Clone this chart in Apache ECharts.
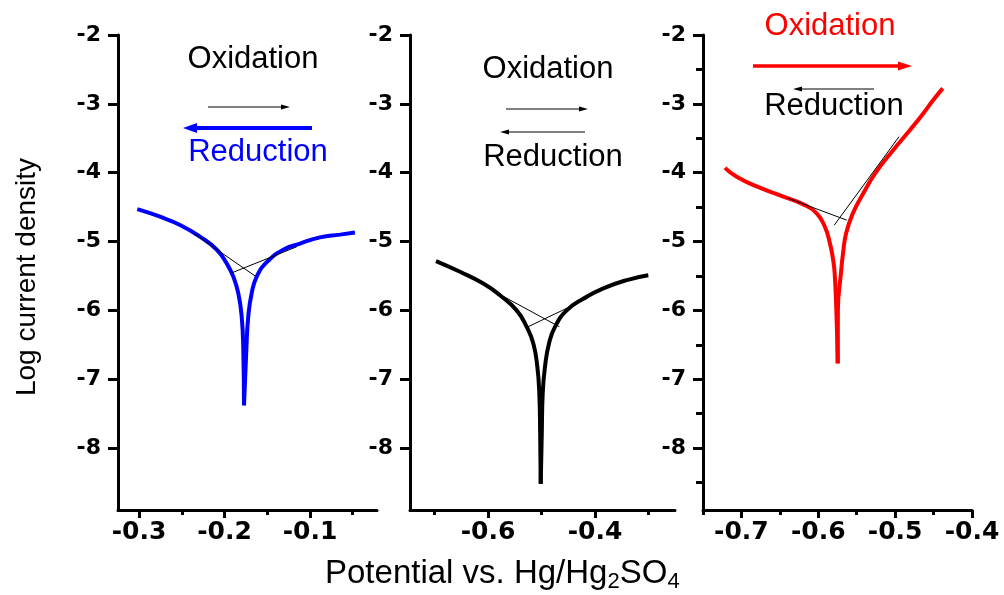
<!DOCTYPE html>
<html>
<head>
<meta charset="utf-8">
<title>Tafel polarization curves</title>
<script src="https://cdn.jsdelivr.net/npm/echarts@6/dist/echarts.min.js"></script>
<style>
  html, body { margin: 0; padding: 0; background: #ffffff; }
  #chart { width: 1004px; height: 595px; }
</style>
</head>
<body>
<div id="chart"></div>
<script>
// ---- Polarization data: potential (V vs Hg/Hg2SO4) and log current density ----

// Panel 1 (blue scan)
const blueCathodicE   = [-0.302, -0.2754, -0.252, -0.2287, -0.209, -0.1974, -0.1897, -0.1839, -0.1799, -0.178, -0.1772];
const blueCathodicLog = [-4.53, -4.64, -4.76, -4.93, -5.12, -5.32, -5.51, -5.75, -6.09, -6.58, -7.38];
const blueAnodicE     = [-0.1772, -0.1745, -0.1722, -0.1682, -0.1623, -0.1506, -0.1312, -0.1117, -0.0883, -0.0649, -0.0474];
const blueAnodicLog   = [-7.38, -6.58, -6.09, -5.75, -5.51, -5.30, -5.12, -5.03, -4.94, -4.90, -4.87];
const blueTafelCathE   = [-0.2365, -0.1643];
const blueTafelCathLog = [-4.88, -5.50];
const blueTafelAnodE   = [-0.1915, -0.1156];
const blueTafelAnodLog = [-5.455, -5.077];

// Panel 2 (black scan)
const blackCathodicE   = [-0.6972, -0.6523, -0.6088, -0.5776, -0.5464, -0.5277, -0.5153, -0.5078, -0.5041, -0.5025, -0.5015];
const blackCathodicLog = [-5.285, -5.44, -5.61, -5.78, -6.00, -6.24, -6.48, -6.82, -7.21, -7.80, -8.52];
const blackAnodicE     = [-0.5015, -0.4995, -0.4978, -0.4935, -0.486, -0.4748, -0.4529, -0.4219, -0.3845, -0.3407, -0.3004];
const blackAnodicLog   = [-8.52, -7.80, -7.21, -6.82, -6.48, -6.24, -6.00, -5.83, -5.68, -5.56, -5.49];
const blackTafelCathE   = [-0.5838, -0.4667];
const blackTafelCathLog = [-5.745, -6.238];
const blackTafelAnodE   = [-0.5277, -0.4144];
const blackTafelAnodLog = [-6.248, -5.827];

// Panel 3 (red scan)
const redCathodicE   = [-0.7214, -0.7062, -0.6801, -0.6498, -0.6195, -0.6021, -0.5913, -0.5848, -0.5805, -0.5787, -0.5765, -0.5747];
const redCathodicLog = [-3.93, -4.06, -4.20, -4.33, -4.46, -4.59, -4.79, -5.03, -5.28, -5.46, -6.00, -6.77];
const redAnodicE     = [-0.5747, -0.5745, -0.5705, -0.5678, -0.5638, -0.5550, -0.5414, -0.5260, -0.5024, -0.4807, -0.4634, -0.4504, -0.4381];
const redAnodicLog   = [-6.77, -6.00, -5.46, -5.17, -4.88, -4.59, -4.30, -4.01, -3.67, -3.38, -3.14, -2.945, -2.775];
const redTafelCathE   = [-0.6389, -0.563];
const redTafelCathLog = [-4.374, -4.689];
const redTafelAnodE   = [-0.5792, -0.4950];
const redTafelAnodLog = [-4.762, -3.478];

// Tick values
const yMajorTicks  = [-2, -3, -4, -5, -6, -7, -8];
const yMinorTicks  = [-2.5, -3.5, -4.5, -5.5, -6.5, -7.5, -8.5];
const x1MajorTicks = [-0.3, -0.2, -0.1];
const x1MinorTicks = [-0.25, -0.15, -0.05];
const x2MajorTicks = [-0.6, -0.4];
const x2MinorTicks = [-0.7, -0.5, -0.3];
const x3MajorTicks = [-0.7, -0.6, -0.5, -0.4];
const x3MinorTicks = [-0.75, -0.65, -0.55, -0.45];

// Axis ranges
const yRange  = [-8.9, -2];
const x1Range = [-0.3246, -0.0216];
const x2Range = [-0.7458, -0.2505];
const x3Range = [-0.75, -0.40];

// ---- helpers ----
const zip = (xs, ys) => xs.map((x, i) => [x, ys[i]]);
const tickFont = { color: '#000', fontFamily: 'DejaVu Sans', fontWeight: 'bold' };
const textFont = '"Liberation Sans", Arial, sans-serif';

function majorX(gridIndex, range, ticks) {
  return {
    type: 'value', gridIndex, min: range[0], max: range[1], position: 'bottom',
    axisLine: { show: true, onZero: false, lineStyle: { color: '#000', width: 3 } },
    axisTick: { show: true, customValues: ticks, length: 8, lineStyle: { color: '#000', width: 3 } },
    axisLabel: Object.assign({ show: true, customValues: ticks, margin: 10, fontSize: 25 }, tickFont),
    splitLine: { show: false }
  };
}
function minorX(gridIndex, range, ticks) {
  return {
    type: 'value', gridIndex, min: range[0], max: range[1], position: 'bottom',
    axisLine: { show: false, onZero: false },
    axisTick: { show: true, customValues: ticks, length: 5, lineStyle: { color: '#000', width: 3 } },
    axisLabel: { show: false },
    splitLine: { show: false }
  };
}
function majorY(gridIndex) {
  return {
    type: 'value', gridIndex, min: yRange[0], max: yRange[1], position: 'left',
    axisLine: { show: true, onZero: false, lineStyle: { color: '#000', width: 3 } },
    axisTick: { show: true, customValues: yMajorTicks, length: 10, lineStyle: { color: '#000', width: 3 } },
    axisLabel: Object.assign({ show: true, customValues: yMajorTicks, margin: 17, fontSize: 22 }, tickFont),
    splitLine: { show: false }
  };
}
function minorY(gridIndex) {
  return {
    type: 'value', gridIndex, min: yRange[0], max: yRange[1], position: 'left',
    axisLine: { show: false, onZero: false },
    axisTick: { show: true, customValues: yMinorTicks, length: 7, lineStyle: { color: '#000', width: 3 } },
    axisLabel: { show: false },
    splitLine: { show: false }
  };
}
function curve(xi, yi, xs, ys, color) {
  return {
    type: 'line', xAxisIndex: xi, yAxisIndex: yi, data: zip(xs, ys),
    showSymbol: false, symbol: 'none', smooth: 0.5, silent: true,
    lineStyle: { color, width: 4, cap: 'butt', join: 'round' }, z: 3
  };
}
function tafel(xi, yi, xs, ys) {
  return {
    type: 'line', xAxisIndex: xi, yAxisIndex: yi, data: zip(xs, ys),
    showSymbol: false, symbol: 'none', silent: true,
    lineStyle: { color: '#000', width: 1 }, z: 4
  };
}
function label(text, x, y, color) {
  return {
    type: 'text', x, y, silent: true,
    style: { text, fill: color, font: '31px ' + textFont, textAlign: 'center', textVerticalAlign: 'middle' }
  };
}
// horizontal arrow from tail x1 to head x2
function arrow(x1, x2, y, color, width, headLen, headHalf) {
  const dir = x2 > x1 ? 1 : -1;
  const base = x2 - dir * headLen;
  return [
    { type: 'line', silent: true, shape: { x1, y1: y, x2: base, y2: y }, style: { stroke: color, lineWidth: width } },
    { type: 'polygon', silent: true, shape: { points: [[x2, y], [base, y - headHalf], [base, y + headHalf]] }, style: { fill: color } }
  ];
}

const chart = echarts.init(document.getElementById('chart'), null, { renderer: 'canvas' });

const option = {
  animation: false,
  backgroundColor: '#ffffff',
  grid: [
    { left: 118, top: 35, width: 259, height: 475 },
    { left: 410, top: 35, width: 265, height: 475 },
    { left: 703, top: 35, width: 269, height: 475 }
  ],
  xAxis: [
    majorX(0, x1Range, x1MajorTicks), minorX(0, x1Range, x1MinorTicks),
    majorX(1, x2Range, x2MajorTicks), minorX(1, x2Range, x2MinorTicks),
    majorX(2, x3Range, x3MajorTicks), minorX(2, x3Range, x3MinorTicks)
  ],
  yAxis: [majorY(0), majorY(1), majorY(2), minorY(2)],
  series: [
    curve(0, 0, blueCathodicE, blueCathodicLog, '#0000ff'),
    curve(0, 0, blueAnodicE, blueAnodicLog, '#0000ff'),
    tafel(0, 0, blueTafelCathE, blueTafelCathLog),
    tafel(0, 0, blueTafelAnodE, blueTafelAnodLog),

    curve(2, 1, blackCathodicE, blackCathodicLog, '#000000'),
    curve(2, 1, blackAnodicE, blackAnodicLog, '#000000'),
    tafel(2, 1, blackTafelCathE, blackTafelCathLog),
    tafel(2, 1, blackTafelAnodE, blackTafelAnodLog),

    curve(4, 2, redCathodicE, redCathodicLog, '#ff0000'),
    curve(4, 2, redAnodicE, redAnodicLog, '#ff0000'),
    tafel(4, 2, redTafelCathE, redTafelCathLog),
    tafel(4, 2, redTafelAnodE, redTafelAnodLog)
  ],
  graphic: [
    // panel 1 annotations
    label('Oxidation', 253, 59, '#000'),
    label('Reduction', 258, 152, '#0000ff'),
    ...arrow(208, 290, 107, '#000', 1, 9, 2.5),
    ...arrow(312, 183, 128, '#0000ff', 4, 14, 5),
    // panel 2 annotations
    label('Oxidation', 548, 69, '#000'),
    label('Reduction', 553, 157, '#000'),
    ...arrow(506, 588, 109, '#000', 1, 9, 2.5),
    ...arrow(585, 500, 132, '#000', 1, 9, 2.5),
    // panel 3 annotations
    label('Oxidation', 830, 26, '#ff0000'),
    label('Reduction', 834, 106, '#000'),
    ...arrow(753, 912, 66, '#ff0000', 3.5, 14, 4.5),
    ...arrow(874, 793, 89, '#000', 1, 9, 2.5),
    // axis titles
    {
      type: 'text', x: 27, y: 277, rotation: Math.PI / 2, silent: true,
      style: { text: 'Log current density', fill: '#000', font: '28px ' + textFont, textAlign: 'center', textVerticalAlign: 'middle' }
    },
    {
      type: 'text', x: 325, y: 574, silent: true,
      style: {
        text: '{a|Potential vs. Hg/Hg}{s|2}{a|SO}{s|4}',
        fill: '#000', textAlign: 'left', textVerticalAlign: 'middle',
        rich: {
          a: { fontSize: 33, fontFamily: textFont, lineHeight: 38, verticalAlign: 'middle', fill: '#000' },
          s: { fontSize: 22, fontFamily: textFont, lineHeight: 22, verticalAlign: 'bottom', fill: '#000' }
        }
      }
    }
  ]
};

chart.setOption(option);
</script>
</body>
</html>
